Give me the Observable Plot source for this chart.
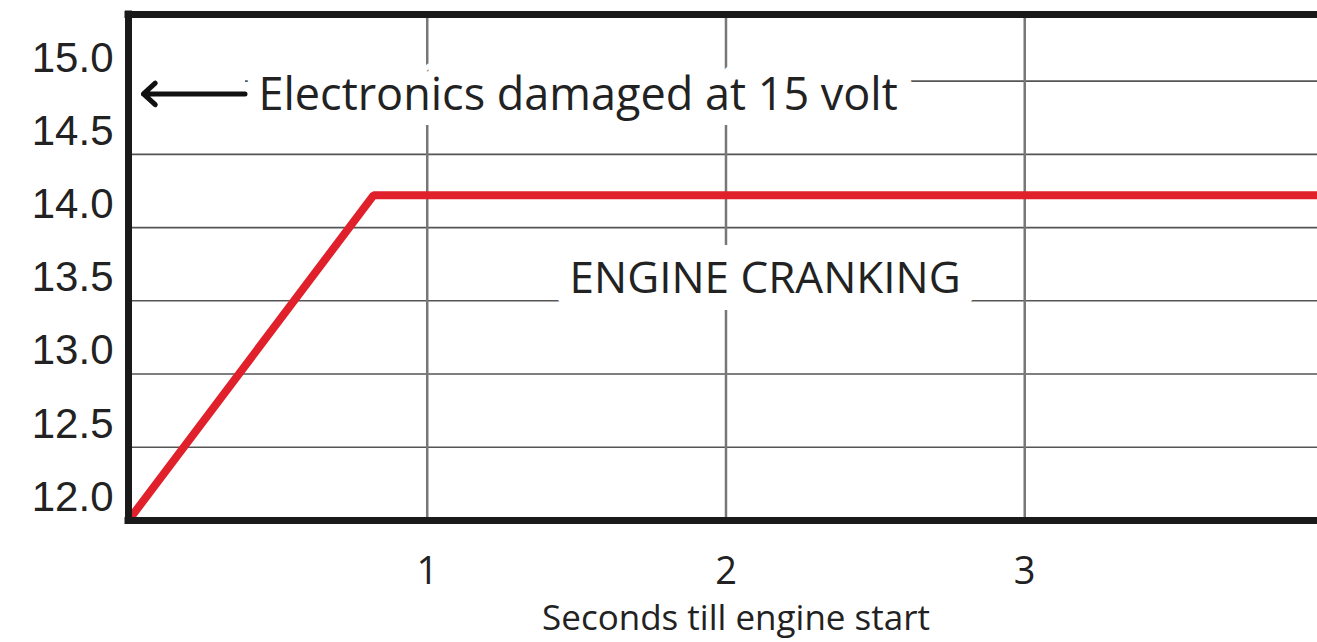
<!DOCTYPE html>
<html>
<head>
<meta charset="utf-8">
<script src="https://cdn.jsdelivr.net/npm/d3@7"></script>
<script src="https://cdn.jsdelivr.net/npm/@observablehq/plot@0.6"></script>
<style>
  html, body { margin: 0; padding: 0; background: #fff; overflow: hidden; }
  #chart svg { display: block; }
</style>
</head>
<body>
<div id="chart"></div>
<script>
// ---- data ----
const seconds = [0, 0.82, 4];
const volts = [12.0, 14.22, 14.22];
const yTicks = [12.0, 12.5, 13.0, 13.5, 14.0, 14.5, 15.0];
const xTicks = [1, 2, 3];
const xLabel = "Seconds till engine start";
const warnLabel = ["Electronics damaged at 15 volt"];
const warnX = [0.435];
const warnY = [14.90];
const arrowX1 = [0.39];
const arrowX2 = [0.05];
const arrowY = [14.913];
const phaseLabel = ["ENGINE CRANKING"];
const phaseX = [2.131];
const phaseY = [13.652];

const xDomain = [0, 3.98];
const yDomain = [12, 15.455];

const line = seconds.map((s, i) => ({s, v: volts[i]}));
const warn = warnLabel.map((t, i) => ({t, x: warnX[i], y: warnY[i]}));
const arrows = arrowX1.map((x1, i) => ({x1, x2: arrowX2[i], y: arrowY[i]}));
const phase = phaseLabel.map((t, i) => ({t, x: phaseX[i], y: phaseY[i]}));

const ink = "#222";
const plot = Plot.plot({
  width: 1317,
  height: 642,
  marginLeft: 128,
  marginRight: 0,
  marginTop: 14,
  marginBottom: 122,
  style: {background: "#fff", color: ink},
  x: {domain: xDomain},
  y: {domain: yDomain},
  marks: [
    Plot.gridY(yTicks.slice(1), {stroke: "#555", strokeOpacity: 1, strokeWidth: 1.6}),
    Plot.gridX(xTicks, {stroke: "#777", strokeOpacity: 1, strokeWidth: 2.5}),
    // white halos behind annotations
    Plot.link(arrows, {x1: "x1", x2: xDomain[0], y1: "y", y2: "y", stroke: "#fff", strokeWidth: 40}),
    Plot.text(warn, {x: "x", y: "y", text: "t", textAnchor: "start", fontFamily: "Open Sans", fontSize: 45,
      fill: ink, stroke: "#fff", strokeWidth: 30, strokeLinejoin: "round"}),
    Plot.text(phase, {x: "x", y: "y", text: "t", textAnchor: "middle", fontFamily: "Open Sans", fontSize: 44,
      fill: ink, stroke: "#fff", strokeWidth: 34, strokeLinejoin: "round"}),
    Plot.arrow(arrows, {x1: "x1", x2: "x2", y1: "y", y2: "y", stroke: "#111", strokeWidth: 5,
      headLength: 4.8, headAngle: 85}),
    // data line
    Plot.line(line, {x: "s", y: "v", stroke: "#e0202a", strokeWidth: 8, strokeLinejoin: "miter", clip: true}),
    // frame (left, top, bottom)
    Plot.ruleX([xDomain[0]], {stroke: "#1a1a1a", strokeWidth: 7, strokeLinecap: "square"}),
    Plot.ruleY([yDomain[0], yDomain[1]], {stroke: "#1a1a1a", strokeWidth: 7, strokeLinecap: "square"}),
    // axes
    Plot.axisY(yTicks, {tickSize: 0, tickPadding: 15, dy: -23, fontSize: 42, fontFamily: "Liberation Sans",
      tickFormat: d3.format(".1f"), label: null, fill: ink}),
    Plot.axisX(xTicks, {tickSize: 0, tickPadding: 37, fontSize: 38, fontFamily: "Open Sans",
      tickFormat: d3.format("d"), label: null, fill: ink}),
    Plot.text([xLabel], {frameAnchor: "bottom", dx: 13, dy: 98, lineAnchor: "middle", fontSize: 35,
      fontFamily: "Open Sans", fill: ink})
  ]
});
document.getElementById("chart").appendChild(plot);
</script>
</body>
</html>
